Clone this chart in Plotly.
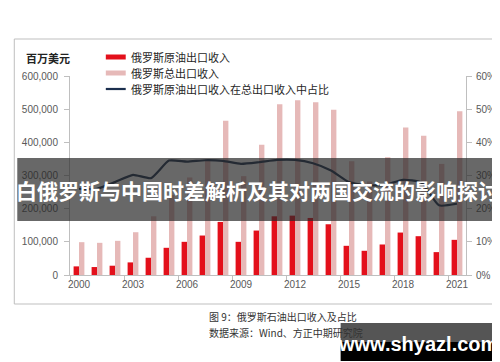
import plotly.graph_objects as go

# ---------------- data ----------------
years = list(range(2000, 2022))
oil_revenue = [26000, 24000, 28000, 38000, 52000, 82000, 100000, 119000, 160000, 100000, 134000,
               177000, 179000, 172000, 153000, 88000, 73000, 92000, 128000, 117000, 69000, 106000]
total_exports = [99000, 97000, 103000, 129000, 177000, 241000, 294000, 350000, 465000, 298000, 393000,
                 515000, 527000, 521000, 498000, 343000, 282000, 355000, 445000, 420000, 335000, 494000]
oil_share = [0.26, 0.26, 0.28, 0.302, 0.292, 0.345, 0.342, 0.346, 0.344, 0.335, 0.34,
             0.347, 0.347, 0.337, 0.315, 0.28, 0.27, 0.272, 0.287, 0.28, 0.21, 0.215]
x_tick_years = [2000, 2003, 2006, 2009, 2012, 2015, 2018, 2021]

series_names = ["俄罗斯原油出口收入", "俄罗斯总出口收入", "俄罗斯原油出口收入在总出口收入中占比"]
unit_label = "百万美元"
banner_text = "白俄罗斯与中国时差解析及其对两国交流的影响探讨"
caption = "图 9：俄罗斯石油出口收入及占比"
source = "数据来源：Wind、方正中期研究院"
watermark = "www.shyazl.com"

RED = "#E3101B"
PINK = "#E6B9B8"
NAVY = "#1B2F4E"
AXIS = "#BFBFBF"
TICKFONT = dict(family="Liberation Sans, Arial, sans-serif", size=10, color="#595959")
CJK = "Noto Sans CJK SC, sans-serif"

# plot area in pixels
W, H = 500, 362
L, R, T, B = 62, 460, 68, 267


def px(x):
    return (x - L) / (R - L)


def py(y):
    return (B - y) / (B - T)


fig = go.Figure()
fig.add_trace(go.Bar(x=years, y=oil_revenue, name=series_names[0], marker_color=RED,
                     marker_line_width=0, showlegend=False))
fig.add_trace(go.Bar(x=years, y=total_exports, name=series_names[1], marker_color=PINK,
                     marker_line_width=0, showlegend=False))
fig.add_trace(go.Scatter(x=years, y=oil_share, name=series_names[2], yaxis="y2", mode="lines",
                         line=dict(color=NAVY, width=2.2, shape="spline", smoothing=0.5),
                         showlegend=False))

shapes = []
annotations = []

# outer frame
shapes.append(dict(type="rect", xref="paper", yref="paper", x0=px(6), x1=px(492), y0=py(31), y1=py(296),
                   line=dict(color=AXIS, width=1), fillcolor="rgba(0,0,0,0)", layer="below"))

# unit label
annotations.append(dict(xref="paper", yref="paper", x=px(40), y=py(50), text="<b>" + unit_label + "</b>",
                        showarrow=False, font=dict(family=CJK, size=11, color="#222"),
                        xanchor="center", yanchor="middle"))

# manual legend
leg_rows = [49, 65, 81]
shapes.append(dict(type="rect", xref="paper", yref="paper", x0=px(98), x1=px(118),
                   y0=py(leg_rows[0] + 2.5), y1=py(leg_rows[0] - 2.5), fillcolor=RED, line_width=0))
shapes.append(dict(type="rect", xref="paper", yref="paper", x0=px(98), x1=px(118),
                   y0=py(leg_rows[1] + 2.5), y1=py(leg_rows[1] - 2.5), fillcolor=PINK, line_width=0))
shapes.append(dict(type="line", xref="paper", yref="paper", x0=px(98), x1=px(118),
                   y0=py(leg_rows[2]), y1=py(leg_rows[2]), line=dict(color=NAVY, width=2.2)))
for name, ry in zip(series_names, leg_rows):
    annotations.append(dict(xref="paper", yref="paper", x=px(121), y=py(ry), text=name, showarrow=False,
                            font=dict(family=CJK, size=11, color="#262626"),
                            xanchor="left", yanchor="middle"))

# captions
annotations.append(dict(xref="paper", yref="paper", x=px(200), y=py(308), text=caption, showarrow=False,
                        font=dict(family=CJK, size=10, color="#333"), xanchor="left", yanchor="middle"))
annotations.append(dict(xref="paper", yref="paper", x=px(200), y=py(324), text=source, showarrow=False,
                        font=dict(family=CJK, size=10, color="#333"), xanchor="left", yanchor="middle"))

# banner overlay
shapes.append(dict(type="rect", xref="paper", yref="paper", x0=px(9), x1=px(492), y0=py(213), y1=py(150),
                   fillcolor="rgba(40,40,40,0.70)", line_width=0, layer="above"))
annotations.append(dict(xref="paper", yref="paper", x=px(250), y=py(182), text="<b>" + banner_text + "</b>",
                        showarrow=False, font=dict(family=CJK, size=21, color="white"),
                        xanchor="center", yanchor="middle"))

# watermark
shapes.append(dict(type="rect", xref="paper", yref="paper", x0=px(334), x1=px(491), y0=py(334), y1=py(315),
                   fillcolor="rgba(20,20,20,0.72)", line_width=0, layer="above"))
shapes.append(dict(type="rect", xref="paper", yref="paper", x0=px(334), x1=px(491), y0=py(353), y1=py(334),
                   fillcolor="black", line_width=0, layer="above"))
annotations.append(dict(xref="paper", yref="paper", x=px(412), y=py(336), text="<b>" + watermark + "</b>",
                        showarrow=False, font=dict(family="Liberation Sans, Arial, sans-serif", size=20,
                                                   color="white"),
                        xanchor="center", yanchor="middle"))

fig.update_layout(
    width=W, height=H,
    margin=dict(l=L, r=W - R, t=T, b=H - B, pad=0),
    paper_bgcolor="white", plot_bgcolor="white",
    barmode="group", bargap=0.4, bargroupgap=0,
    shapes=shapes, annotations=annotations,
    xaxis=dict(range=[1999.5, 2021.5], tickmode="array", tickvals=x_tick_years,
               ticktext=[str(y) for y in x_tick_years], ticks="", showgrid=False, zeroline=False,
               showline=True, linecolor=AXIS, linewidth=1, tickfont=TICKFONT,
               minor=dict(tickmode="array", tickvals=[y - 0.5 for y in x_tick_years],
                          ticks="outside", ticklen=5, tickcolor=AXIS, showgrid=False)),
    yaxis=dict(range=[0, 600000], dtick=100000, tickformat=",", showgrid=False, zeroline=False,
               showline=True, linecolor=AXIS, linewidth=1, ticks="outside", ticklen=5, tickcolor=AXIS,
               tickfont=TICKFONT, ticklabelstandoff=4),
    yaxis2=dict(range=[0, 0.6], dtick=0.1, tickformat=".0%", overlaying="y", side="right",
                showgrid=False, zeroline=False, showline=True, linecolor=AXIS, linewidth=1,
                ticks="outside", ticklen=5, tickcolor=AXIS, tickfont=TICKFONT, ticklabelstandoff=2),
)

fig.write_html("out.html")
